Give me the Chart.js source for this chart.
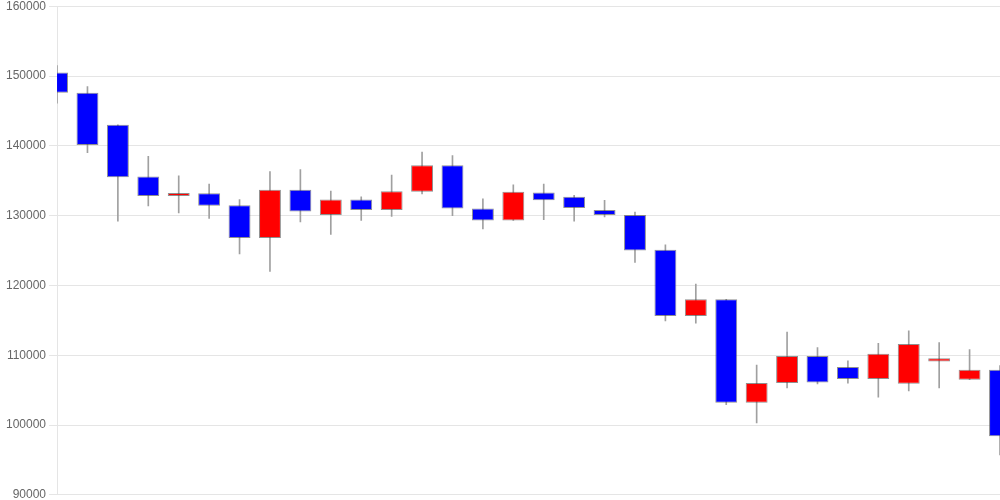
<!DOCTYPE html>
<html>
<head>
<meta charset="utf-8">
<script src="https://cdn.jsdelivr.net/npm/chart.js@4"></script>
<style>
html,body{margin:0;padding:0;background:#fff;overflow:hidden;}
#outer{width:1000px;height:500px;overflow:hidden;position:relative;}
#wrap{position:absolute;left:0;top:-4px;width:1000px;height:509px;}
</style>
</head>
<body>
<div id="outer"><div id="wrap"><canvas id="c"></canvas></div></div>
<script>
const labels = ["1","2","3","4","5","6","7","8","9","10","11","12","13","14","15","16","17","18","19","20","21","22","23","24","25","26","27","28","29","30","31","32"];
const openV  = [150500,147600,143000,135600,132800,133200,131500,126800,133700,130100,132300,130800,133400,137200,131000,129300,133300,132700,130800,130100,125100,115600,118000,103200,106000,109900,108300,106600,105900,109100,106500,107900];
const highV  = [151500,148500,143000,138500,135700,134500,132300,136300,136600,133500,132700,135800,139100,138600,132400,134400,134500,132900,132200,130500,125800,120200,118000,108600,113300,111100,109200,111700,113500,111800,110800,108500];
const lowV   = [146100,139000,129200,131400,130400,129600,124500,122000,129100,127300,129300,129900,133100,130000,128100,129300,129400,129200,129800,123300,114900,114600,102900,100300,105300,105900,106000,104000,104900,105300,106500,95700];
const closeV = [147600,140100,135500,132800,133250,131400,126800,133700,130600,132300,130800,133500,137200,131000,129300,133400,132200,131100,130100,125000,115600,118000,103200,106000,109900,106100,106600,110200,111600,109550,107900,98400];
const yTicks = [90000,100000,110000,120000,130000,140000,150000,160000];

const bodies = openV.map((o,i)=>[o, closeV[i]]);
const wicks = lowV.map((l,i)=>[l, highV[i]]);
const bodyColors = openV.map((o,i)=> closeV[i] >= o ? '#ff0000' : '#0000ff');

new Chart(document.getElementById('c'), {
  type: 'bar',
  data: {
    labels: labels,
    datasets: [
      {
        label: 'body',
        data: bodies,
        backgroundColor: bodyColors,
        borderColor: 'rgba(70,70,70,0.6)',
        borderWidth: 1,
        borderSkipped: false,
        grouped: false,
        barPercentage: 0.9,
        categoryPercentage: 0.8,
        minBarLength: 3
      },
      {
        label: 'wick',
        data: wicks,
        backgroundColor: '#a0a0a0',
        borderWidth: 0,
        grouped: false,
        barThickness: 1
      }
    ]
  },
  options: {
    responsive: true,
    maintainAspectRatio: false,
    animation: false,
    layout: { padding: { top: 0, bottom: 0, left: 3, right: 0 } },
    plugins: { legend: { display: false }, tooltip: { enabled: false } },
    scales: {
      x: {
        display: false,
        offset: false
      },
      y: {
        min: 90000,
        max: 160000,
        afterBuildTicks: (axis) => { axis.ticks = yTicks.map(v => ({ value: v })); },
        ticks: { color: '#666', font: { size: 12, family: "'Liberation Sans', Arial, sans-serif" }, callback: (v) => String(v) },
        grid: { color: 'rgba(0,0,0,0.1)' }
      }
    }
  }
});
</script>
</body>
</html>
